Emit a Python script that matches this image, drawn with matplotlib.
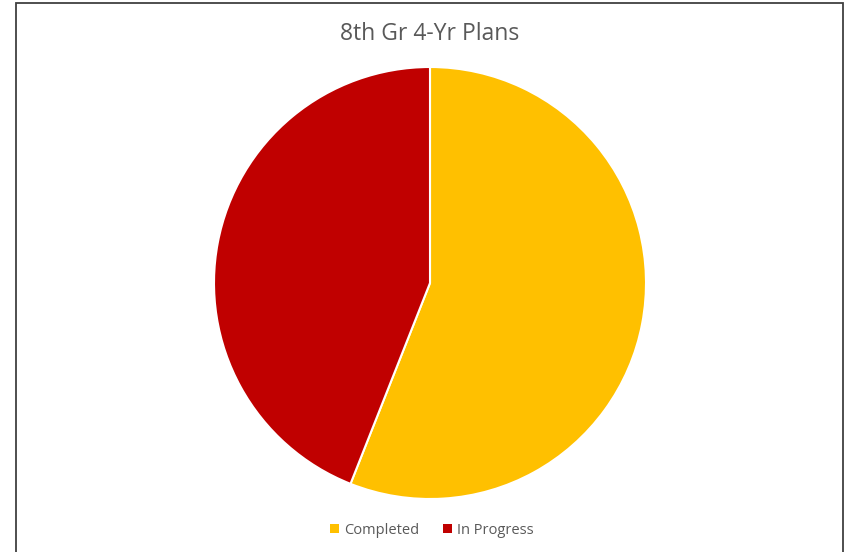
import matplotlib.pyplot as plt
from matplotlib.patches import Rectangle, Patch

labels = ['Completed', 'In Progress']
values = [56, 44]
colors = ['#FFC000', '#C00000']

plt.rcParams['font.family'] = ['Open Sans', 'DejaVu Sans']

fig = plt.figure(figsize=(8.46, 5.52), dpi=100)

# chart frame
fig.patches.append(Rectangle((16 / 846, -0.05), (843 - 16) / 846, (549 + 0.05 * 552) / 552,
                             transform=fig.transFigure, fill=False,
                             edgecolor='#404040', linewidth=1.3))

ax = fig.add_axes([214 / 846, 53 / 552, 432 / 846, 432 / 552])
ax.pie(values, colors=colors, startangle=90, counterclock=False, radius=1,
       wedgeprops=dict(edgecolor='white', linewidth=1.5))
ax.set_xlim(-1, 1)
ax.set_ylim(-1, 1)
ax.set_aspect('equal')
ax.axis('off')

fig.text(430 / 846, 1 - 34 / 552, '8th Gr 4-Yr Plans', ha='center', va='center',
         fontsize=16.5, color='#595959')

handles = [Patch(facecolor=c, edgecolor='none') for c in colors]
fig.legend(handles, labels, loc='center', bbox_to_anchor=(432 / 846, 1 - 530 / 552),
           ncol=2, frameon=False, fontsize=10.5, labelcolor='#595959',
           handlelength=0.6, handleheight=0.6, handletextpad=0.4, columnspacing=1.6)

fig.savefig('out.png', dpi=100)
